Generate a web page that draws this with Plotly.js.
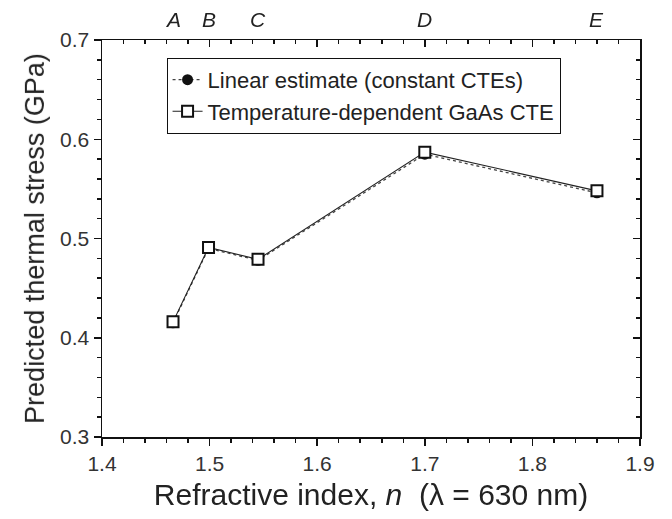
<!DOCTYPE html>
<html>
<head>
<meta charset="utf-8">
<script src="https://cdn.plot.ly/plotly-3.0.1.min.js"></script>
<style>html,body{margin:0;padding:0;background:#fff;}#chart{width:672px;height:519px;}</style>
</head>
<body>
<div id="chart"></div>
<script>
// Data
const samples = ["A", "B", "C", "D", "E"];
const refractiveIndex = [1.466, 1.499, 1.545, 1.700, 1.860];
const linearStress = [0.415, 0.490, 0.478, 0.585, 0.546];
const tempDepStress = [0.416, 0.491, 0.479, 0.587, 0.548];
const xRange = [1.4, 1.9];
const yRange = [0.3, 0.7];

const FONT = "Liberation Sans";
const INK = "#111";

const traces = [
  {
    x: refractiveIndex, y: linearStress, name: "Linear estimate (constant CTEs)",
    mode: "lines+markers", type: "scatter",
    line: {color: "#444", width: 1.3, dash: "dot"},
    marker: {symbol: "circle", size: 11, color: "#111"}
  },
  {
    x: refractiveIndex, y: tempDepStress, name: "Temperature-dependent GaAs CTE",
    mode: "lines+markers", type: "scatter",
    line: {color: "#222", width: 1.1},
    marker: {symbol: "square", size: 11, color: "#fff", line: {width: 2, color: "#111"}}
  },
  {x: refractiveIndex, y: tempDepStress, xaxis: "x2", mode: "markers", opacity: 0, showlegend: false},
  {x: refractiveIndex, y: tempDepStress, yaxis: "y2", mode: "markers", opacity: 0, showlegend: false}
];

// sample letters above the top axis, one per data point
const letterNotes = samples.map((s, i) => ({
  x: refractiveIndex[i], xref: "x", y: 1, yref: "paper",
  yanchor: "bottom", yshift: 7, showarrow: false,
  text: "<i>" + s + "</i>", font: {size: 21, family: FONT, color: "#222"}
}));

const layout = {
  width: 672, height: 519,
  margin: {l: 102, r: 32, t: 40, b: 82},
  showlegend: true,
  legend: {
    x: 0.12, y: 0.955, xanchor: "left", yanchor: "top",
    bordercolor: "#111", borderwidth: 1, bgcolor: "#fff",
    font: {size: 22, family: FONT, color: "#222"},
    tracegroupgap: 0
  },
  annotations: letterNotes,
  xaxis: {
    range: xRange, dtick: 0.1,
    ticks: "outside", ticklen: 7, tickwidth: 1.5, tickcolor: INK,
    minor: {dtick: 0.02, ticks: "outside", ticklen: 4, tickwidth: 1.5, tickcolor: INK, showgrid: false},
    showgrid: false, showline: true, linecolor: INK, linewidth: 1.5,
    tickfont: {size: 21, family: FONT, color: "#333"},
    title: {text: "Refractive index, <i>n</i>  (λ = 630 nm)", font: {size: 30, family: FONT, color: "#222"}, standoff: 10}
  },
  xaxis2: {
    overlaying: "x", side: "top", range: xRange, dtick: 0.1, showticklabels: false,
    ticks: "inside", ticklen: 7, tickwidth: 1.5, tickcolor: INK,
    minor: {dtick: 0.02, ticks: "inside", ticklen: 4, tickwidth: 1.5, tickcolor: INK, showgrid: false},
    showgrid: false, showline: true, linecolor: INK, linewidth: 1.5
  },
  yaxis: {
    range: yRange, dtick: 0.1,
    ticks: "outside", ticklen: 7, tickwidth: 1.5, tickcolor: INK,
    minor: {dtick: 0.02, ticks: "outside", ticklen: 4, tickwidth: 1.5, tickcolor: INK, showgrid: false},
    showgrid: false, showline: true, linecolor: INK, linewidth: 1.5,
    tickfont: {size: 21, family: FONT, color: "#333"},
    title: {text: "Predicted thermal stress (GPa)", font: {size: 27, family: FONT, color: "#222"}, standoff: 8}
  },
  yaxis2: {
    overlaying: "y", side: "right", range: yRange, dtick: 0.1, showticklabels: false,
    ticks: "inside", ticklen: 7, tickwidth: 1.5, tickcolor: INK,
    minor: {dtick: 0.02, ticks: "inside", ticklen: 4, tickwidth: 1.5, tickcolor: INK, showgrid: false},
    showgrid: false, showline: true, linecolor: INK, linewidth: 1.5
  }
};

Plotly.newPlot("chart", traces, layout, {displayModeBar: false, staticPlot: true});
</script>
</body>
</html>
